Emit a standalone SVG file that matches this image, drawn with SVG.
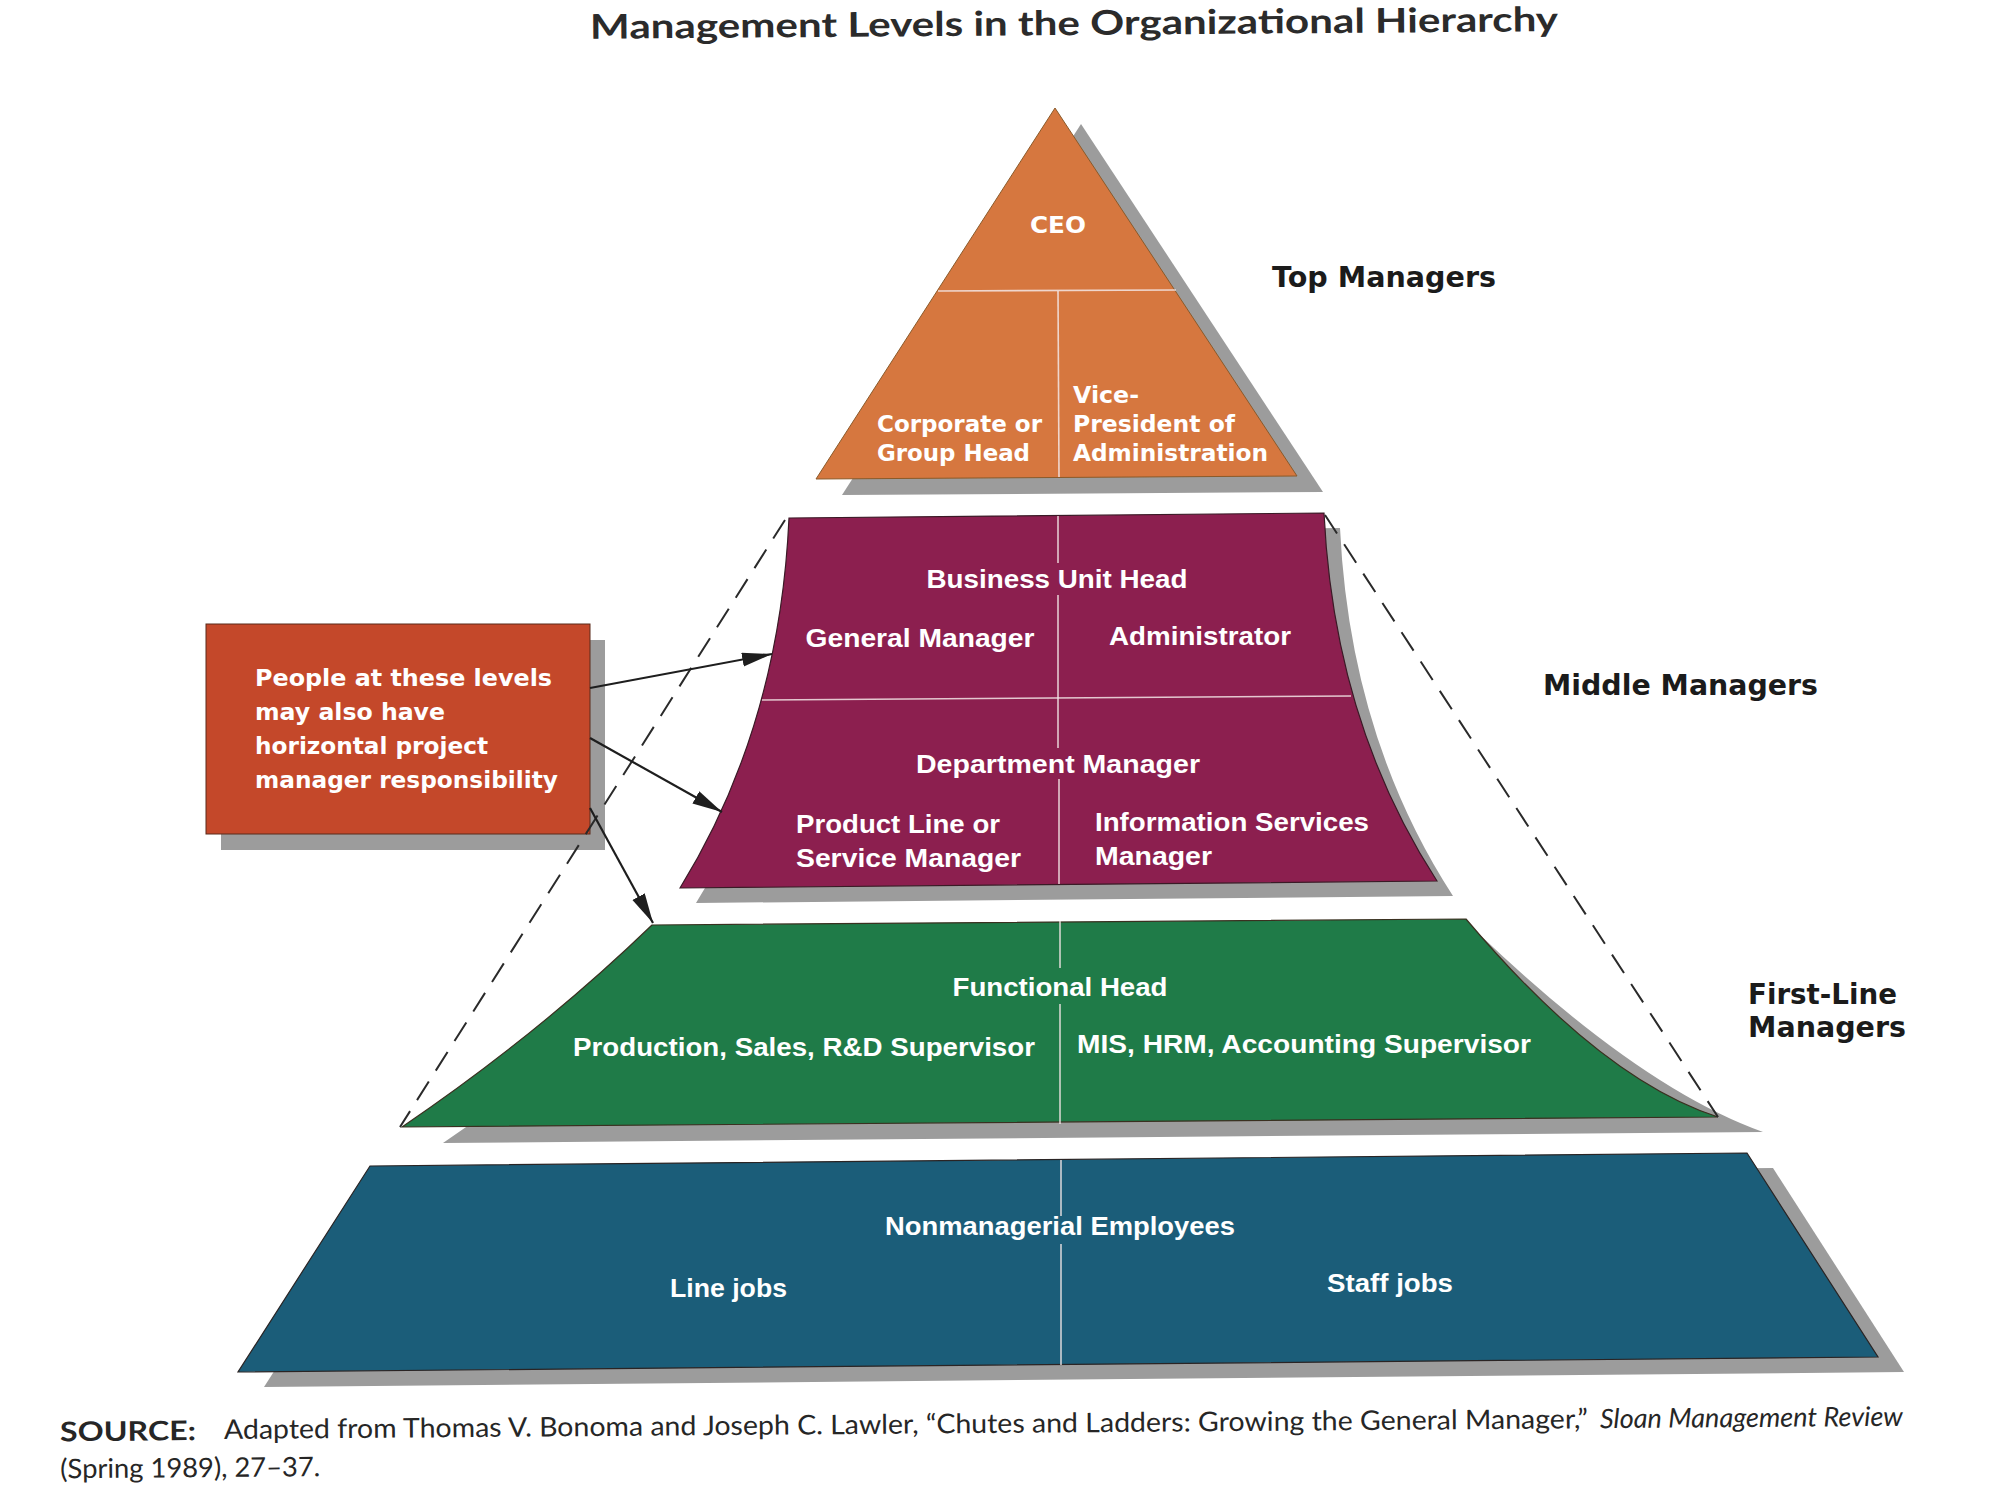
<svg xmlns="http://www.w3.org/2000/svg" width="1996" height="1494" viewBox="0 0 1996 1494">
  <defs>
    <marker id="ah" markerUnits="userSpaceOnUse" markerWidth="32" markerHeight="16" refX="30" refY="7" orient="auto">
      <path d="M0,0 L30,7 L0,14 Z" fill="#1e1e1e"/>
    </marker>
    <style>
      .shadow { fill: #9c9c9c; }
      .div { stroke: #f3e6e6; stroke-width: 1.6; fill: none; opacity: 0.85; }
      .lbl { fill: #ffffff; font-family: "Liberation Sans", Arial, sans-serif; font-weight: bold; font-size: 26px; }
      .wlbl { fill: #ffffff; font-family: "DejaVu Sans", "Liberation Sans", sans-serif; font-weight: bold; font-size: 23px; }
      .lvl { fill: #1b1b1b; font-family: "DejaVu Sans", "Liberation Sans", sans-serif; font-weight: bold; font-size: 28px; }
      .src { fill: #262626; font-family: Lato, "Open Sans", sans-serif; font-size: 27px; }
      .dash { stroke: #2a2a2a; stroke-width: 2; stroke-dasharray: 22 13; fill: none; }
      .arrow { stroke: #1e1e1e; stroke-width: 2.2; fill: none; marker-end: url(#ah); }
    </style>
  </defs>
  <rect x="0" y="0" width="1996" height="1494" fill="#ffffff"/>

  <text x="1074" y="35" text-anchor="middle" textLength="968" lengthAdjust="spacingAndGlyphs" transform="rotate(-0.45 1074 22)" font-family="Lato, 'Open Sans', sans-serif" font-weight="bold" font-size="34" fill="#2b2b2b">Management Levels in the Organizational Hierarchy</text>

  <g id="top-managers">
    <path class="shadow" transform="translate(26,16)" d="M1055,108 L1297,476 L816,479 Z"/>
    <path d="M1055,108 L1297,476 L816,479 Z" fill="#d6773f" stroke="#8a5a2a" stroke-width="1"/>
    <line class="div" x1="938" y1="291" x2="1176" y2="290"/>
    <line class="div" x1="1058" y1="291" x2="1059" y2="477"/>
    <text class="wlbl" x="1058" y="233" text-anchor="middle" textLength="56" lengthAdjust="spacingAndGlyphs">CEO</text>
    <text class="wlbl" x="877" y="432" textLength="165" lengthAdjust="spacingAndGlyphs">Corporate or</text>
    <text class="wlbl" x="877" y="461" textLength="153" lengthAdjust="spacingAndGlyphs">Group Head</text>
    <text class="wlbl" x="1073" y="403" textLength="66" lengthAdjust="spacingAndGlyphs">Vice-</text>
    <text class="wlbl" x="1073" y="432" textLength="162" lengthAdjust="spacingAndGlyphs">President of</text>
    <text class="wlbl" x="1073" y="461" textLength="195" lengthAdjust="spacingAndGlyphs">Administration</text>
  </g>

  <g id="middle-managers">
    <path class="shadow" fill="#8c8c8c" transform="translate(16,15)" d="M789,518 L1324,513 Q1334,722 1437,881 L680,888 Q779.5,727 789,518 Z"/>
    <path d="M789,518 L1324,513 Q1334,722 1437,881 L680,888 Q779.5,727 789,518 Z" fill="#8c1f4f" stroke="#3a1a26" stroke-width="1.2"/>
    <line class="div" x1="762" y1="700" x2="1351" y2="696"/>
    <line class="div" x1="1058" y1="516" x2="1058" y2="563"/>
    <line class="div" x1="1058" y1="595" x2="1058" y2="748"/>
    <line class="div" x1="1059" y1="779" x2="1059" y2="884"/>
    <text class="lbl" x="1057" y="588" text-anchor="middle" textLength="261" lengthAdjust="spacingAndGlyphs">Business Unit Head</text>
    <text class="lbl" x="920" y="647" text-anchor="middle" textLength="229" lengthAdjust="spacingAndGlyphs">General Manager</text>
    <text class="lbl" x="1200" y="645" text-anchor="middle" textLength="182" lengthAdjust="spacingAndGlyphs">Administrator</text>
    <text class="lbl" x="1058" y="773" text-anchor="middle" textLength="284" lengthAdjust="spacingAndGlyphs">Department Manager</text>
    <text class="lbl" x="796" y="833" textLength="204" lengthAdjust="spacingAndGlyphs">Product Line or</text>
    <text class="lbl" x="796" y="867" textLength="225" lengthAdjust="spacingAndGlyphs">Service Manager</text>
    <text class="lbl" x="1095" y="831" textLength="274" lengthAdjust="spacingAndGlyphs">Information Services</text>
    <text class="lbl" x="1095" y="865" textLength="117" lengthAdjust="spacingAndGlyphs">Manager</text>
  </g>

  <g id="first-line-managers">
    <path class="shadow" d="M700,935 L1478,933 Q1640,1088 1763,1132 L443,1143 Q580,1050 700,935 Z"/>
    <path d="M652,925 L1466,919 Q1602,1080 1718,1117 L402,1127 Q539,1034 652,925 Z" fill="#1f7b48" stroke="#3a3020" stroke-width="1.2"/>
    <line class="div" x1="1060" y1="921" x2="1060" y2="968"/>
    <line class="div" x1="1060" y1="1004" x2="1060" y2="1124"/>
    <text class="lbl" x="1060" y="996" text-anchor="middle" textLength="215" lengthAdjust="spacingAndGlyphs">Functional Head</text>
    <text class="lbl" x="573" y="1056" textLength="462" lengthAdjust="spacingAndGlyphs">Production, Sales, R&amp;D Supervisor</text>
    <text class="lbl" x="1077" y="1053" textLength="454" lengthAdjust="spacingAndGlyphs">MIS, HRM, Accounting Supervisor</text>
  </g>

  <g id="nonmanagerial-employees">
    <path class="shadow" transform="translate(26,15)" d="M370,1166 L1747,1153 L1878,1357 L238,1372 Z"/>
    <path d="M370,1166 L1747,1153 L1878,1357 L238,1372 Z" fill="#1b5d79" stroke="#2a2424" stroke-width="1.2"/>
    <line class="div" x1="1061" y1="1160" x2="1061" y2="1216"/>
    <line class="div" x1="1061" y1="1244" x2="1061" y2="1365"/>
    <text class="lbl" x="1060" y="1235" text-anchor="middle" textLength="350" lengthAdjust="spacingAndGlyphs">Nonmanagerial Employees</text>
    <text class="lbl" x="670" y="1297" textLength="117" lengthAdjust="spacingAndGlyphs">Line jobs</text>
    <text class="lbl" x="1327" y="1292" textLength="126" lengthAdjust="spacingAndGlyphs">Staff jobs</text>
  </g>

  <g id="project-note">
    <rect class="shadow" x="221" y="640" width="384" height="210"/>
    <rect x="206" y="624" width="384" height="210" fill="#c4482a" stroke="#5a2a1a" stroke-width="1"/>
    <text class="wlbl" x="255" y="686" textLength="297" lengthAdjust="spacingAndGlyphs">People at these levels</text>
    <text class="wlbl" x="255" y="720" textLength="190" lengthAdjust="spacingAndGlyphs">may also have</text>
    <text class="wlbl" x="255" y="754" textLength="233" lengthAdjust="spacingAndGlyphs">horizontal project</text>
    <text class="wlbl" x="255" y="788" textLength="303" lengthAdjust="spacingAndGlyphs">manager responsibility</text>
  </g>

  <g id="level-labels">
    <text class="lvl" x="1272" y="287" textLength="224" lengthAdjust="spacingAndGlyphs">Top Managers</text>
    <text class="lvl" x="1543" y="695" textLength="275" lengthAdjust="spacingAndGlyphs">Middle Managers</text>
    <text class="lvl" x="1748" y="1004" textLength="149" lengthAdjust="spacingAndGlyphs">First-Line</text>
    <text class="lvl" x="1748" y="1037" textLength="158" lengthAdjust="spacingAndGlyphs">Managers</text>
  </g>

  <g id="connectors">
    <line class="dash" x1="785" y1="520" x2="400" y2="1127"/>
    <line class="dash" x1="1325" y1="515" x2="1718" y2="1117"/>
    <line class="arrow" x1="590" y1="688" x2="772" y2="654"/>
    <line class="arrow" x1="590" y1="738" x2="722" y2="812"/>
    <line class="arrow" x1="590" y1="808" x2="653" y2="923"/>
  </g>

  <g id="source" transform="rotate(-0.45 980 1434)">
    <text class="src" x="60" y="1434" font-weight="bold" textLength="136" lengthAdjust="spacingAndGlyphs">SOURCE:</text>
    <text class="src" x="224" y="1433" textLength="1364" lengthAdjust="spacingAndGlyphs">Adapted from Thomas V. Bonoma and Joseph C. Lawler, “Chutes and Ladders: Growing the General Manager,”</text>
    <text class="src" x="1600" y="1433" font-style="italic" textLength="303" lengthAdjust="spacingAndGlyphs">Sloan Management Review</text>
    <text class="src" x="60" y="1471" textLength="260" lengthAdjust="spacingAndGlyphs">(Spring 1989), 27–37.</text>
  </g>
</svg>
